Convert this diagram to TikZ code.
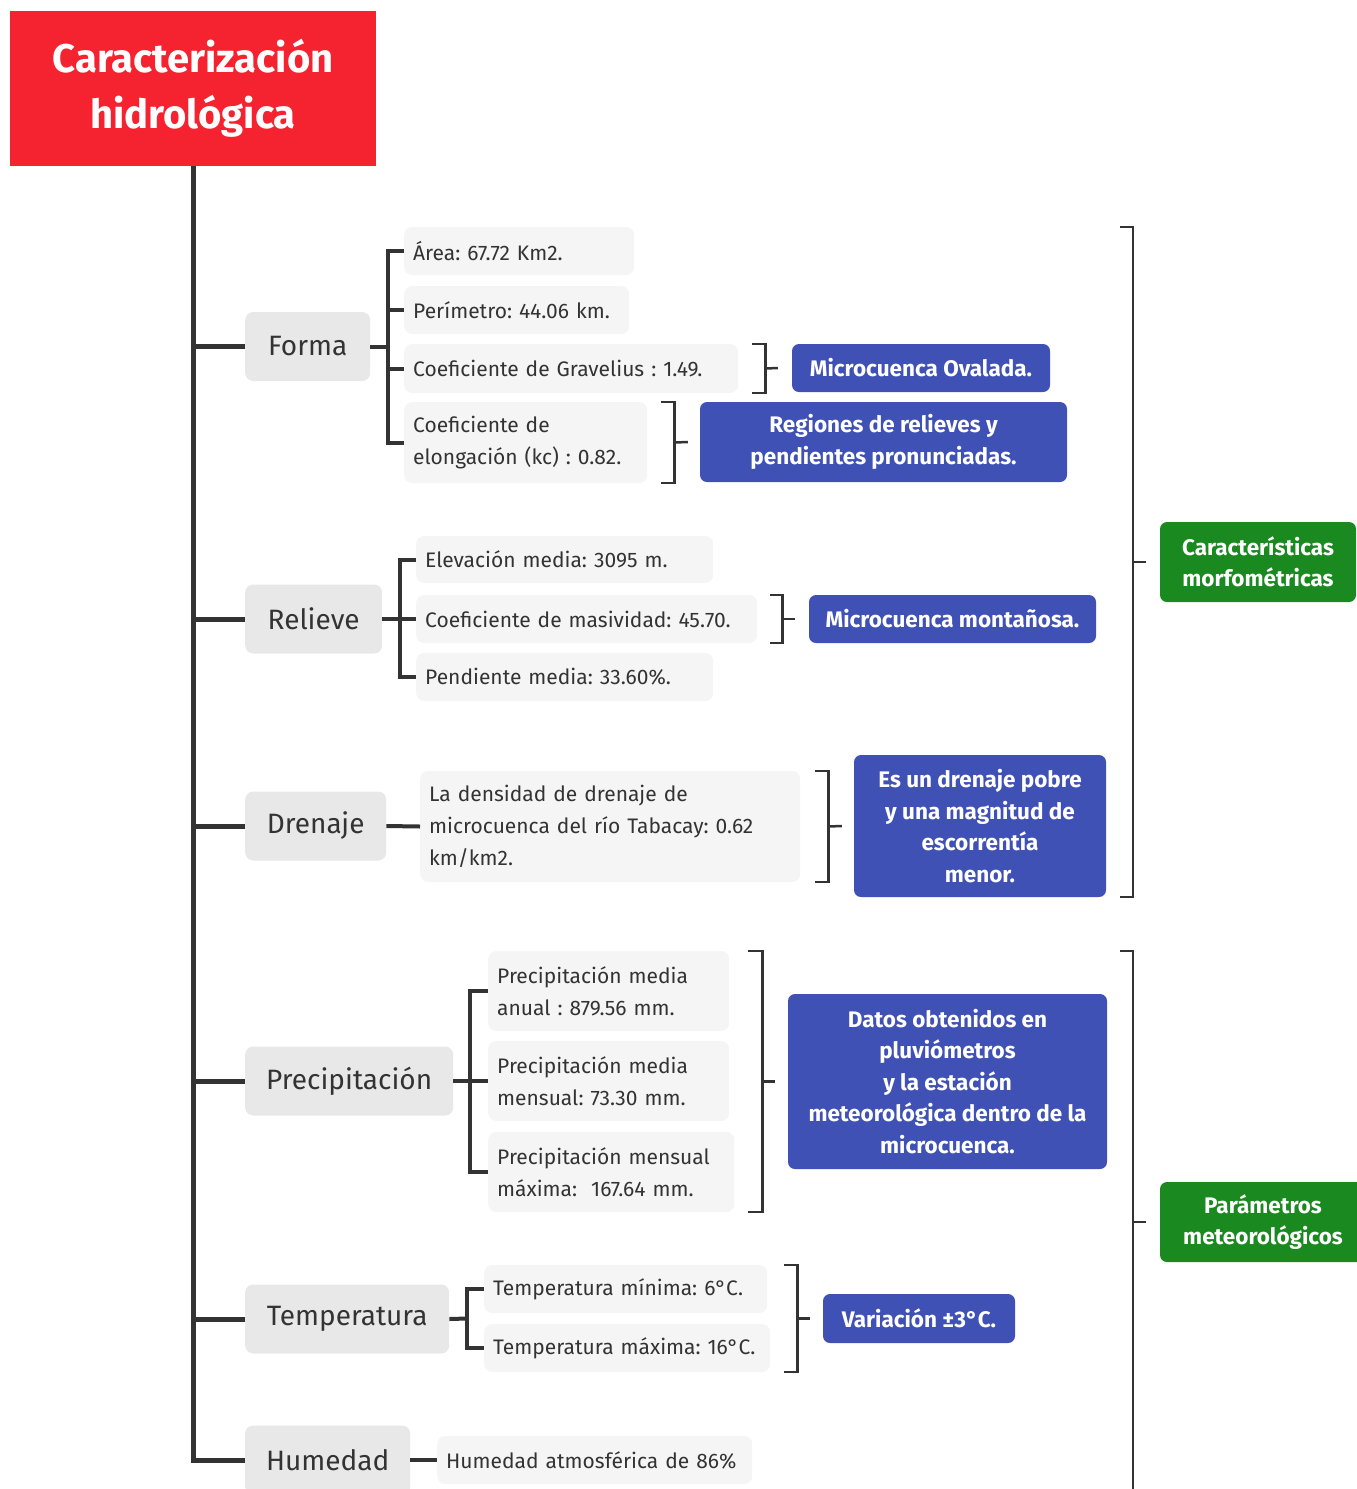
\documentclass[tikz,border=0pt]{standalone}
\usepackage{fontspec}
\setmainfont{Fira Sans}
\frenchspacing
\definecolor{rootred}{HTML}{F52230}
\definecolor{ink}{HTML}{333333}
\definecolor{topicgray}{HTML}{E8E8E8}
\definecolor{leafgray}{HTML}{F5F5F5}
\definecolor{noteblue}{HTML}{3F51B5}
\definecolor{sumgreen}{HTML}{1A8A20}
\tikzset{
  root/.style={fill=rootred, text=white, inner sep=0, align=center,
    font=\fontsize{40}{56}\selectfont\bfseries},
  topic/.style={fill=topicgray, text=ink, rounded corners=8pt, inner sep=0,
    anchor=west, minimum height=69, font=\fontsize{28}{34}\selectfont},
  leaf/.style={fill=leafgray, text=ink, rounded corners=8pt, inner xsep=9,
    inner ysep=0, anchor=west, align=left, font=\fontsize{21}{32}\selectfont},
  note/.style={fill=noteblue, text=white, rounded corners=7pt, inner sep=0,
    align=center, font=\fontsize{22.5}{31.5}\selectfont\bfseries},
  summ/.style={fill=sumgreen, text=white, rounded corners=7pt, inner sep=0,
    align=center, font=\fontsize{22.5}{31}\selectfont\bfseries},
  trunk/.style={draw=ink, line width=5},
  limb/.style={draw=ink, line width=4},
  brace/.style={draw=ink, line width=2.5},
  bigbrace/.style={draw=ink, line width=2},
}
\begin{document}
\begin{tikzpicture}[x=1pt, y=-1pt]
\useasboundingbox (0,0) rectangle (1357,1489);
\clip (0,0) rectangle (1357,1489);

% central topic
\node[root, minimum width=366, minimum height=155] (root) at (193,88.5)
  {Caracterización\\hidrológica};

% main topics
\node[topic, minimum width=125] (forma)   at (245,346.5) {Forma};
\node[topic, minimum width=137] (relieve) at (245,619)   {Relieve};
\node[topic, minimum width=141] (drenaje) at (245,826)   {Drenaje};
\node[topic, minimum width=208] (precip)  at (245,1081)  {Precipitación};
\node[topic, minimum width=204] (temp)    at (245,1319)  {Temperatura};
\node[topic, minimum width=165] (hum)     at (245,1460)  {Humedad};

% trunk and branches
\draw[trunk] (root.south) -- (root.south |- hum.west) -- (hum.west);
\foreach \t in {forma,relieve,drenaje,precip,temp}
  \draw[trunk] (root.south |- \t.west) -- (\t.west);

% Forma
\node[leaf, text width=212, minimum height=48] (area)  at (404,251)   {Área: 67.72 Km2.};
\node[leaf, text width=207, minimum height=48] (peri)  at (404,310)   {Perímetro: 44.06 km.};
\node[leaf, text width=316, minimum height=49] (grav)  at (404,368.5) {Coeficiente de Gravelius : 1.49.};
\node[leaf, text width=225, minimum height=81] (elong) at (404,442.5) {Coeficiente de\\elongación (kc) : 0.82.};
\coordinate (fj) at (388,346.5);
\draw[limb] (forma.east) -- (fj);
\draw[limb] (area.west) -| (fj) |- (elong.west);
\draw[limb] (peri.west) -- (fj |- peri.west);
\draw[limb] (grav.west) -- (fj |- grav.west);

\node[note, minimum width=258, minimum height=48] (oval) at (921,368) {Microcuenca Ovalada.};
\node[note, minimum width=367, minimum height=80] (regiones) at (883.5,442)
  {Regiones de relieves y\\pendientes pronunciadas.};
\draw[brace] ([xshift=14]grav.north east) -- ++(13,0) -- ([xshift=27]grav.south east) -- ++(-13,0);
\draw[brace] ([xshift=27]grav.east) -- ([xshift=-14]oval.west);
\draw[brace] ([xshift=14]elong.north east) -- ++(13,0) -- ([xshift=27]elong.south east) -- ++(-13,0);
\draw[brace] ([xshift=27]elong.east) -- ([xshift=-12]regiones.west);

% Relieve
\node[leaf, text width=279, minimum height=47] (elev)  at (416,559.5) {Elevación media: 3095 m.};
\node[leaf, text width=323, minimum height=48] (masiv) at (416,619)   {Coeficiente de masividad: 45.70.};
\node[leaf, text width=279, minimum height=48] (pend)  at (416,677)   {Pendiente media: 33.60\%.};
\coordinate (rj) at (400,619);
\draw[limb] (relieve.east) -- (rj);
\draw[limb] (elev.west) -| (rj) |- (pend.west);
\draw[limb] (masiv.west) -- (rj);

\node[note, minimum width=287, minimum height=48] (montan) at (952.5,619) {Microcuenca montañosa.};
\draw[brace] ([xshift=13]masiv.north east) -- ++(12,0) -- ([xshift=25]masiv.south east) -- ++(-12,0);
\draw[brace] ([xshift=25]masiv.east) -- ([xshift=-14]montan.west);

% Drenaje
\node[leaf, text width=362, minimum height=111] (dens) at (420,826.5)
  {La densidad de drenaje de\\microcuenca del río Tabacay: 0.62\\km/km2.};
\draw[limb] (drenaje.east) -- (dens.west);
\node[note, minimum width=252, minimum height=142] (pobre) at (980,826)
  {Es un drenaje pobre\\y una magnitud de\\escorrentía\\menor.};
\draw[brace] ([xshift=15]dens.north east) -- ++(13,0) -- ([xshift=28]dens.south east) -- ++(-13,0);
\draw[brace] ([xshift=28]dens.east) -- ([xshift=-12]pobre.west);

% Precipitación
\node[leaf, text width=223, minimum height=80] (pmanual) at (488,991)  {Precipitación media\\anual : 879.56 mm.};
\node[leaf, text width=223, minimum height=80] (pmmens)  at (488,1081) {Precipitación media\\mensual: 73.30 mm.};
\node[leaf, text width=228, minimum height=80] (pmax)    at (488,1172) {Precipitación mensual\\máxima:\ \ 167.64 mm.};
\coordinate (pj) at (470,1081);
\draw[limb] (precip.east) -- (pj);
\draw[limb] (pmanual.west) -| (pj) |- (pmax.west);
\draw[limb] (pmmens.west) -- (pj);

\node[note, minimum width=319, minimum height=175] (datos) at (947.5,1081.5)
  {Datos obtenidos en\\pluviómetros\\y la estación\\meteorológica dentro de la\\microcuenca.};
\coordinate (pb) at ([xshift=14]pmax.south east);
\draw[brace] (pb |- pmanual.north) -- ++(14,0) -- ([xshift=14]pb) -- (pb);
\draw[brace] ([xshift=14]pb |- datos.west) -- ([xshift=-13]datos.west);

% Temperatura
\node[leaf, text width=265, minimum height=48] (tmin) at (484,1289) {Temperatura mínima: 6°C.};
\node[leaf, text width=268, minimum height=48] (tmax) at (484,1348) {Temperatura máxima: 16°C.};
\coordinate (tj) at (467,1318.5);
\draw[limb] (temp.east) -- (tj);
\draw[limb] (tmin.west) -| (tj) |- (tmax.west);

\node[note, minimum width=192, minimum height=49] (variac) at (919,1318.5) {Variación ±3°C.};
\coordinate (tb) at ([xshift=14]tmax.south east);
\draw[brace] (tb |- tmin.north) -- ++(13,0) -- ([xshift=13]tb) -- (tb);
\draw[brace] ([xshift=13]tb |- variac.west) -- ([xshift=-13]variac.west);

% Humedad
\node[leaf, text width=297, minimum height=48] (hatm) at (437,1460) {Humedad atmosférica de 86\%};
\draw[limb] (hum.east) -- (hatm.west);

% summaries
\node[summ, minimum width=196, minimum height=80] (morfo) at (1258,562)
  {Características\\morfométricas};
\node[summ, minimum width=206, minimum height=80] (param) at (1263,1222)
  {Parámetros\\meteorológicos};
\draw[bigbrace] ([xshift=-40]morfo.west |- area.north) -- ([xshift=-27]morfo.west |- area.north)
  -- ([xshift=-27]morfo.west |- pobre.south) -- ([xshift=-40]morfo.west |- pobre.south);
\draw[bigbrace] ([xshift=-27]morfo.west) -- ([xshift=-14]morfo.west);
\draw[bigbrace] ([xshift=-40]param.west |- pmanual.north) -- ([xshift=-27]param.west |- pmanual.north)
  -- ([xshift=-27]param.west |- hum.south);
\draw[bigbrace] ([xshift=-27]param.west) -- ([xshift=-14]param.west);
\end{tikzpicture}
\end{document}
